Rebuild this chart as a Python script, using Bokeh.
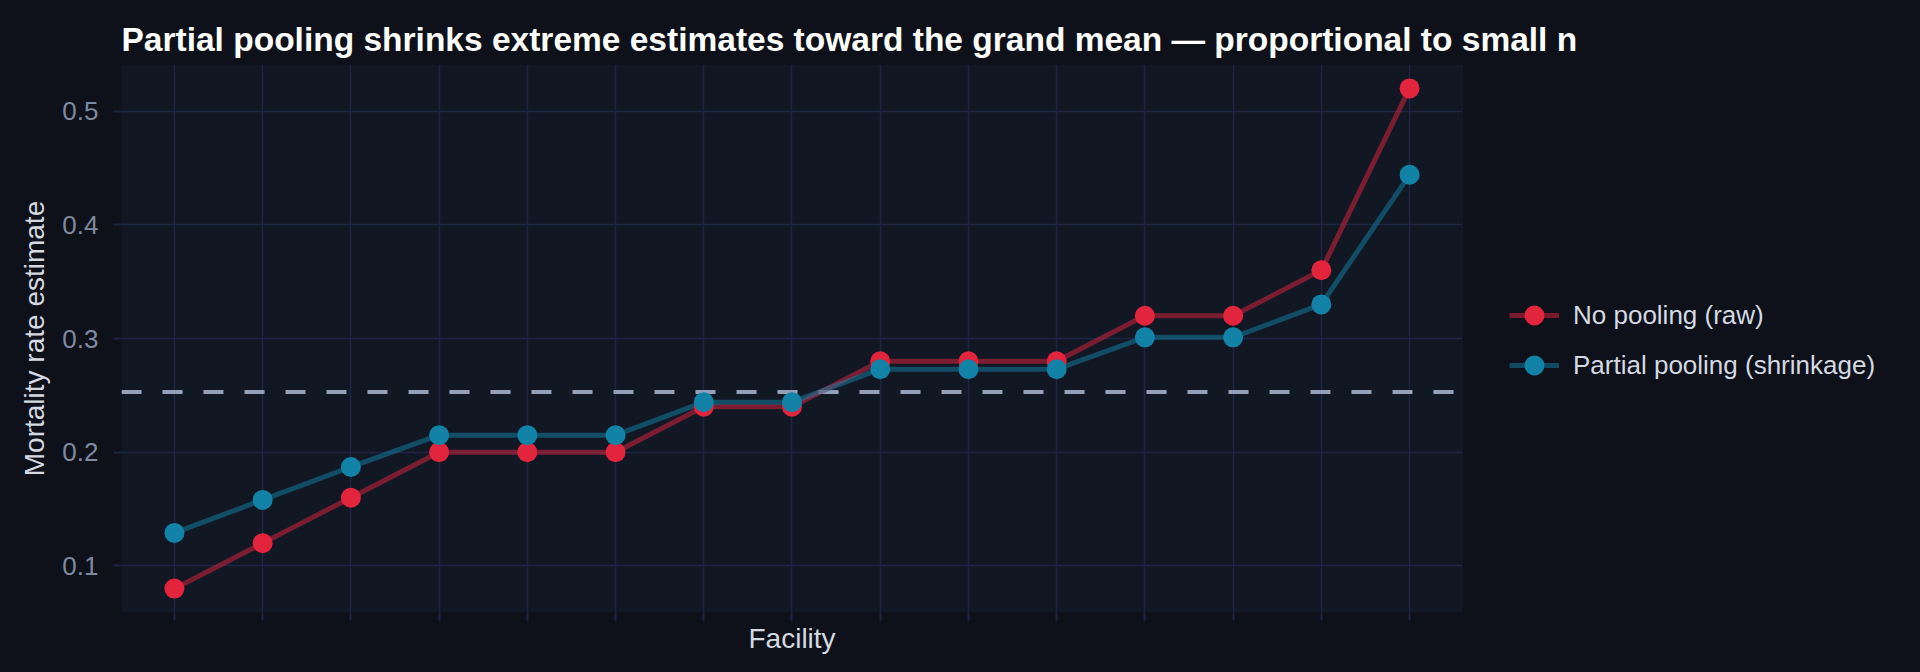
from bokeh.plotting import figure
from bokeh.models import FixedTicker, Legend, LegendItem, ColumnDataSource, Range1d, BoxAnnotation, Title
from bokeh.embed import file_html
from bokeh.resources import INLINE

# ---- data ----
facility = list(range(1, 16))
raw_rate = [0.08, 0.12, 0.16, 0.20, 0.20, 0.20, 0.24, 0.24, 0.28, 0.28, 0.28, 0.32, 0.32, 0.36, 0.52]
partial_rate = [0.129, 0.158, 0.187, 0.215, 0.215, 0.215, 0.244, 0.244, 0.273, 0.273, 0.273, 0.301, 0.301, 0.330, 0.444]
grand_mean = 0.253
y_ticks = [0.1, 0.2, 0.3, 0.4, 0.5]
series_labels = ["No pooling (raw)", "Partial pooling (shrinkage)"]

# ---- style ----
FONT = "Liberation Sans"
BG = "#0e1119"
PANEL = "#121724"
GRID = "#1c2640"
TICK_TXT = "#7e8aa0"
AXIS_TXT = "#d4d9e2"
RED = "#e2243d"
BLUE = "#1283a7"

# panel extent (discrete axis padding of 0.6) and extra room on the right for the legend
X_LO, X_HI = 0.4, 15.6
X_VIEW_HI = 20.61

src = ColumnDataSource(dict(facility=facility, raw=raw_rate, partial=partial_rate))

p = figure(width=1904, height=656, output_backend="svg", toolbar_location=None,
           x_range=Range1d(X_LO, X_VIEW_HI), y_range=Range1d(0.059, 0.541),
           min_border_left=121, min_border_right=0, min_border_top=64, min_border_bottom=44,
           background_fill_color=BG, border_fill_color=BG, outline_line_color=None)

# plot panel
p.add_layout(BoxAnnotation(left=X_LO, right=X_HI, fill_color=PANEL, fill_alpha=1,
                           line_color=GRID, line_width=1.5, level="image"))

p.title.text = "Partial pooling shrinks extreme estimates toward the grand mean \u2014 proportional to small n"
p.title.text_font = FONT
p.title.text_font_size = "33.5px"
p.title.text_font_style = "bold"
p.title.text_color = "#ffffff"
p.title.align = "left"
p.title.standoff = 14

# grid
p.xgrid.ticker = FixedTicker(ticks=facility)
p.ygrid.ticker = FixedTicker(ticks=y_ticks)
p.ygrid.cross_bounds = (X_LO, X_HI)
for g in (p.xgrid, p.ygrid):
    g.grid_line_color = GRID
    g.grid_line_width = 1.5

# axes
p.xaxis.ticker = FixedTicker(ticks=facility)
p.xaxis.bounds = (X_LO, X_HI)
p.yaxis.ticker = FixedTicker(ticks=y_ticks)
p.xaxis.major_label_overrides = {i: "" for i in facility}
p.yaxis.major_label_overrides = {t: f"{t:g}" for t in y_ticks}
for ax in (p.xaxis, p.yaxis):
    ax.axis_line_color = None
    ax.major_tick_line_color = GRID
    ax.major_tick_line_width = 2
    ax.major_tick_in = 0
    ax.major_tick_out = 8
    ax.minor_tick_line_color = None
    ax.major_label_text_font = FONT
    ax.major_label_text_font_size = "26px"
    ax.major_label_text_color = TICK_TXT
    ax.axis_label_text_font = FONT
    ax.axis_label_text_font_size = "28px"
    ax.axis_label_text_font_style = "normal"
    ax.axis_label_text_color = AXIS_TXT

p.xaxis.major_label_standoff = 4
p.yaxis.axis_label = "Mortality rate estimate"
p.yaxis.major_label_standoff = 15
p.yaxis.axis_label_standoff = 9

# x-axis title, centred under the panel (not the whole frame, which also holds the legend)
p.add_layout(Title(text="Facility", align="left", offset=627, standoff=0,
                   text_font=FONT, text_font_size="28px", text_font_style="normal",
                   text_color=AXIS_TXT), "below")

# grand mean reference (dashed, across the panel)
p.segment(x0=[X_LO], x1=[X_HI], y0=[grand_mean], y1=[grand_mean],
          line_color="#94a0b8", line_width=4, line_dash="20 21")

# series
l_raw = p.line("facility", "raw", source=src, line_color=RED, line_alpha=0.5, line_width=5)
l_par = p.line("facility", "partial", source=src, line_color=BLUE, line_alpha=0.5, line_width=5)
s_raw = p.scatter("facility", "raw", source=src, size=20, fill_color=RED, line_color=None)
s_par = p.scatter("facility", "partial", source=src, size=20, fill_color=BLUE, line_color=None)

legend = Legend(items=[LegendItem(label=series_labels[0], renderers=[l_raw, s_raw]),
                       LegendItem(label=series_labels[1], renderers=[l_par, s_par])],
                location=(1388, 222))
legend.label_text_font = FONT
legend.label_text_font_size = "26px"
legend.label_text_color = AXIS_TXT
legend.glyph_width = 50
legend.glyph_height = 50
legend.label_height = 50
legend.label_standoff = 14
legend.spacing = -3
legend.padding = 0
legend.margin = 0
legend.background_fill_alpha = 0
legend.border_line_alpha = 0
p.add_layout(legend)

html = file_html(p, INLINE)
html = html.replace("<head>", "<head><style>html,body{background:%s;}</style>" % BG, 1)
open("out.html", "w").write(html)
